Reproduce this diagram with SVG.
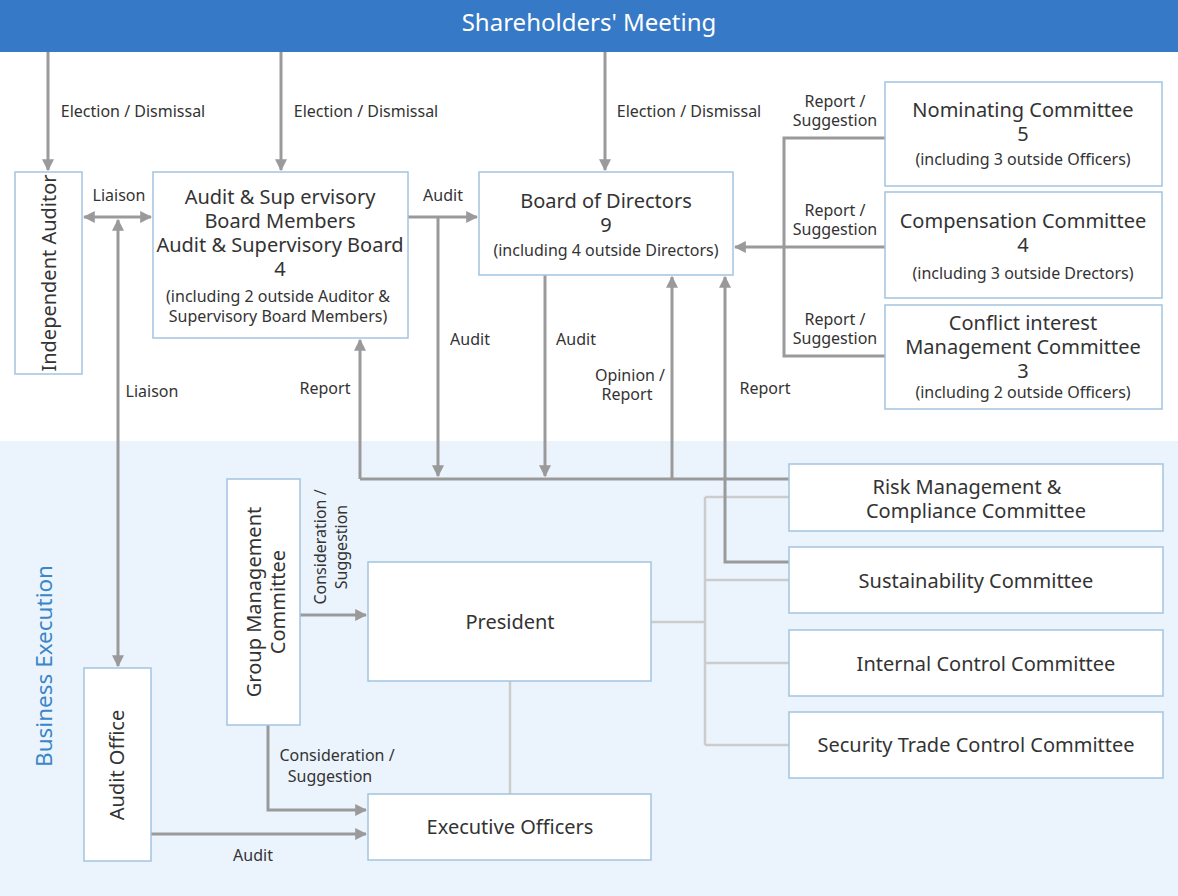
<svg xmlns="http://www.w3.org/2000/svg" width="1178" height="896" viewBox="0 0 1178 896">
<defs>
<style>
text{font-family:"Noto Sans","Open Sans",sans-serif;fill:#333}
.box{fill:#fff;stroke:#a3c4e0;stroke-width:1.5}
.t{font-size:20px;text-anchor:middle}
.s{font-size:16px;text-anchor:middle}
.l{font-size:16px;text-anchor:middle}
.c{fill:none;stroke:#9a9a9a;stroke-width:3}
.g{fill:none;stroke:#cccccc;stroke-width:2.5}
</style>
<marker id="a" viewBox="0 0 10 10" refX="9" refY="5" markerWidth="4" markerHeight="4" orient="auto-start-reverse"><path d="M0,0L10,5L0,10z" fill="#9a9a9a"/></marker>
</defs>
<rect x="0" y="0" width="1178" height="896" fill="#fff"/>
<rect x="0" y="441" width="1178" height="455" fill="#ebf4fd"/>
<rect x="0" y="0" width="1178" height="52" fill="#3679c6"/>
<text x="589" y="31" font-size="24" text-anchor="middle" style="fill:#fff">Shareholders' Meeting</text>
<text transform="translate(52,666) rotate(-90)" font-size="22.5" text-anchor="middle" style="fill:#3a86c8">Business Execution</text>

<g id="connectors">
<path class="g" d="M651,622H705M705,497V745M705,497H789M705,580H789M705,663H789M705,745H789M510,681V794"/>
<path class="c" marker-end="url(#a)" d="M48,52V170"/>
<path class="c" marker-end="url(#a)" d="M281,52V170"/>
<path class="c" marker-end="url(#a)" d="M605,52V170"/>
<path class="c" marker-start="url(#a)" marker-end="url(#a)" d="M84,217H151"/>
<path class="c" marker-start="url(#a)" marker-end="url(#a)" d="M118,220V666"/>
<path class="c" marker-end="url(#a)" d="M408,217H477"/>
<path class="c" marker-end="url(#a)" d="M438,217V476"/>
<path class="c" marker-end="url(#a)" d="M545,275V476"/>
<path class="c" d="M360,479H789"/>
<path class="c" marker-end="url(#a)" d="M360,479V340"/>
<path class="c" marker-end="url(#a)" d="M672,479V277"/>
<path class="c" marker-end="url(#a)" d="M789,562H725V277"/>
<path class="c" d="M885,138H784V356H885"/>
<path class="c" marker-end="url(#a)" d="M885,247H735"/>
<path class="c" marker-end="url(#a)" d="M300,615H366"/>
<path class="c" marker-end="url(#a)" d="M268,725V810H366"/>
<path class="c" marker-end="url(#a)" d="M151,834H366"/>
</g>
<g id="labels">
<text class="l" x="133" y="117">Election / Dismissal</text>
<text class="l" x="366" y="117">Election / Dismissal</text>
<text class="l" x="689" y="117">Election / Dismissal</text>
<text class="l" x="119" y="201">Liaison</text>
<text class="l" x="152" y="397">Liaison</text>
<text class="l" x="443" y="201">Audit</text>
<text class="l" x="470" y="345">Audit</text>
<text class="l" x="576" y="345">Audit</text>
<text class="l" x="325" y="394">Report</text>
<text class="l" x="630" y="381">Opinion /</text>
<text class="l" x="627" y="400">Report</text>
<text class="l" x="765" y="394">Report</text>
<text class="l" x="835" y="107">Report /</text>
<text class="l" x="835" y="126">Suggestion</text>
<text class="l" x="835" y="216">Report /</text>
<text class="l" x="835" y="235">Suggestion</text>
<text class="l" x="835" y="325">Report /</text>
<text class="l" x="835" y="344">Suggestion</text>
<text class="l" transform="translate(326,547) rotate(-90)">Consideration /</text>
<text class="l" transform="translate(347,547) rotate(-90)">Suggestion</text>
<text class="l" x="337" y="761">Consideration /</text>
<text class="l" x="330" y="782">Suggestion</text>
<text class="l" x="253" y="861">Audit</text>
</g>

<g id="independent-auditor"><rect class="box" x="15" y="172" width="67" height="202"/><text class="t" transform="translate(56,273) rotate(-90)">Independent Auditor</text></g>
<g id="audit-board"><rect class="box" x="153" y="172" width="255" height="166"/>
<text class="t" x="280" y="204">Audit &amp; Sup ervisory</text><text class="t" x="280" y="228">Board Members</text><text class="t" x="280" y="252">Audit &amp; Supervisory Board</text><text class="t" x="280" y="276">4</text>
<text class="s" x="278" y="302">(including 2 outside Auditor &amp;</text><text class="s" x="278" y="322">Supervisory Board Members)</text></g>
<g id="board"><rect class="box" x="479" y="172" width="254" height="103"/><text class="t" x="606" y="208">Board of Directors</text><text class="t" x="606" y="232">9</text><text class="s" x="606" y="256">(including 4 outside Directors)</text></g>
<g id="nominating"><rect class="box" x="885" y="82" width="277" height="104"/><text class="t" x="1023" y="117">Nominating Committee</text><text class="t" x="1023" y="141">5</text><text class="s" x="1023" y="165">(including 3 outside Officers)</text></g>
<g id="compensation"><rect class="box" x="885" y="192" width="277" height="106"/><text class="t" x="1023" y="228">Compensation Committee</text><text class="t" x="1023" y="252">4</text><text class="s" x="1023" y="279">(including 3 outside Drectors)</text></g>
<g id="conflict"><rect class="box" x="885" y="305" width="277" height="104"/><text class="t" x="1023" y="330">Conflict interest</text><text class="t" x="1023" y="354">Management Committee</text><text class="t" x="1023" y="378">3</text><text class="s" x="1023" y="398">(including 2 outside Officers)</text></g>
<g id="risk"><rect class="box" x="789" y="464" width="374" height="67"/><text class="t" x="967" y="494">Risk Management &amp;</text><text class="t" x="976" y="518">Compliance Committee</text></g>
<g id="sustainability"><rect class="box" x="789" y="547" width="374" height="66"/><text class="t" x="976" y="588">Sustainability Committee</text></g>
<g id="internal"><rect class="box" x="789" y="630" width="374" height="66"/><text class="t" x="986" y="671">Internal Control Committee</text></g>
<g id="security"><rect class="box" x="789" y="712" width="374" height="66"/><text class="t" x="976" y="752">Security Trade Control Committee</text></g>
<g id="group"><rect class="box" x="227" y="479" width="73" height="246"/><text class="t" transform="translate(261,602) rotate(-90)">Group Management</text><text class="t" transform="translate(285,602) rotate(-90)">Committee</text></g>
<g id="president"><rect class="box" x="368" y="562" width="283" height="119"/><text class="t" x="510" y="629">President</text></g>
<g id="executive"><rect class="box" x="368" y="794" width="283" height="66"/><text class="t" x="510" y="834">Executive Officers</text></g>
<g id="audit-office"><rect class="box" x="84" y="668" width="67" height="193"/><text class="t" transform="translate(124,765) rotate(-90)">Audit Office</text></g>
</svg>
